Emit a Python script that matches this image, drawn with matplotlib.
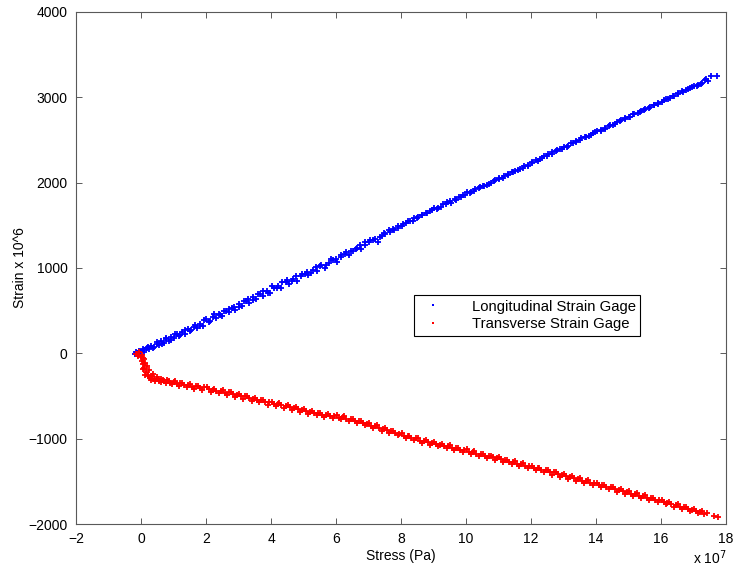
import matplotlib
matplotlib.use("Agg")
import matplotlib.pyplot as plt

plt.rcParams['font.family'] = ['Liberation Sans', 'DejaVu Sans']

# ----- Data (stress in units of 1e7 Pa, strain in microstrain) -----
long_stress_a = [
    -0.20, -0.15, -0.10, -0.05, 0.00, 0.05, 0.10, 0.18, 0.25, 0.32, 0.40, 0.48,
    0.55, 0.63, 0.70, 0.78, 0.85, 0.93, 1.00, 1.10, 1.18, 1.27, 1.35, 1.45,
    1.55, 1.63, 1.72, 1.82, 1.90, 2.00, 2.10, 2.20, 2.30, 2.40, 2.50, 2.60,
    2.70, 2.80, 2.90, 3.00, 3.10, 3.22, 3.33, 3.45, 3.55, 3.65, 3.75, 3.87,
    3.98, 4.10, 4.20, 4.32, 4.45, 4.55, 4.68, 4.80, 4.92, 5.05, 5.15, 5.28,
    5.40, 5.52, 5.65, 5.77, 5.90, 6.02, 6.15, 6.28, 6.40, 6.52, 6.65, 6.77,
    6.90, 7.02, 7.15, 7.28, 7.40, 7.52, 7.65, 7.78, 7.90, 8.02, 8.15, 8.28,
    8.40, 8.52, 8.65, 8.78, 8.90, 9.02, 9.15, 9.28, 9.40, 9.52, 9.65, 9.78,
    9.90, 10.02, 10.15, 10.28, 10.40, 10.52, 10.65, 10.78, 10.90, 11.02, 11.15, 11.28,
    11.40, 11.52, 11.65, 11.78, 11.90, 12.02, 12.15, 12.28, 12.40, 12.52, 12.65, 12.78,
    12.90, 13.02, 13.15, 13.28, 13.40, 13.52, 13.65, 13.78, 13.90, 14.02, 14.15, 14.28,
    14.40, 14.52, 14.65, 14.78, 14.90, 15.02, 15.15, 15.28, 15.40, 15.52, 15.65, 15.78,
    15.90, 16.02, 16.15, 16.28, 16.40, 16.52, 16.65, 16.78, 16.90, 17.02, 17.15, 17.25,
    17.35, 17.45, 17.55, 17.72,
]
long_strain_a = [
    -10, 15, 5, 30, 20, 45, 35, 60, 50, 85, 70, 110,
    95, 140, 120, 165, 150, 190, 175, 230, 205, 250, 225, 290,
    270, 310, 300, 345, 320, 400, 370, 430, 415, 465, 440, 500,
    485, 530, 510, 575, 555, 610, 590, 660, 640, 690, 670, 735,
    710, 765, 790, 770, 830, 815, 870, 850, 905, 935, 915, 975,
    960, 1020, 1000, 1060, 1090, 1075, 1130, 1160, 1150, 1195, 1240, 1225,
    1275, 1300, 1330, 1310, 1370, 1395, 1420, 1445, 1470, 1490, 1530, 1545,
    1580, 1600, 1625, 1650, 1665, 1700, 1705, 1745, 1770, 1785, 1810, 1830,
    1860, 1885, 1890, 1920, 1935, 1960, 1975, 2000, 2030, 2050, 2060, 2095,
    2120, 2140, 2160, 2195, 2210, 2230, 2260, 2275, 2310, 2330, 2355, 2370,
    2400, 2420, 2430, 2470, 2490, 2505, 2535, 2550, 2580, 2600, 2620, 2645,
    2665, 2680, 2710, 2730, 2760, 2775, 2800, 2820, 2845, 2865, 2890, 2905,
    2935, 2950, 2980, 2995, 3020, 3040, 3070, 3085, 3105, 3130, 3150, 3170,
    3200, 3190, 3250, 3255,
]
long_stress_b = [
    0.08, 0.22, 0.36, 0.50, 0.64, 0.78, 0.92, 1.05, 1.20, 1.35, 1.50, 1.66,
    1.80, 1.95, 2.12, 2.26, 2.42, 2.56, 2.72, 2.86, 3.02, 3.16, 3.30, 3.44,
    3.60, 3.74, 3.90, 4.04, 4.18, 4.34, 4.50, 4.64, 4.78, 4.94, 5.10, 5.24,
    5.38, 5.54, 5.70, 5.84, 6.00, 6.14, 6.30, 6.46, 6.60, 6.74, 6.88, 7.04,
    7.20, 7.34, 7.48, 7.62, 7.76, 7.92, 8.06, 8.22, 8.36, 8.50, 8.64, 8.80,
    8.94, 9.10, 9.24, 9.38, 9.54, 9.68, 9.84, 9.98, 10.12, 10.26, 10.42, 10.56,
    10.72, 10.86, 11.00, 11.16, 11.30, 11.46, 11.60, 11.74, 11.90, 12.04, 12.20, 12.34,
    12.50, 12.64, 12.80, 12.94, 13.10, 13.24, 13.38, 13.54, 13.68, 13.84, 13.98, 14.14,
    14.28, 14.44, 14.58, 14.74, 14.88, 15.04, 15.18, 15.34, 15.48, 15.64, 15.78, 15.92,
    16.08, 16.22, 16.38, 16.52, 16.68, 16.82, 16.96, 17.10, 17.22, 17.40,
]
long_strain_b = [
    10, 75, 60, 130, 105, 180, 160, 230, 215, 275, 260, 335,
    315, 390, 380, 460, 445, 495, 520, 545, 540, 615, 640, 620,
    700, 725, 705, 790, 760, 830, 855, 845, 905, 925, 950, 945,
    1010, 1040, 1030, 1100, 1110, 1150, 1190, 1200, 1220, 1265, 1300, 1330,
    1340, 1365, 1405, 1445, 1455, 1490, 1520, 1545, 1555, 1590, 1620, 1640,
    1685, 1690, 1720, 1750, 1765, 1800, 1835, 1855, 1875, 1905, 1950, 1965,
    1985, 2015, 2045, 2075, 2100, 2125, 2150, 2175, 2195, 2245, 2255, 2290,
    2315, 2335, 2380, 2395, 2420, 2460, 2475, 2520, 2530, 2560, 2595, 2610,
    2630, 2675, 2690, 2725, 2750, 2765, 2810, 2830, 2850, 2880, 2915, 2925,
    2970, 2985, 3010, 3050, 3060, 3095, 3125, 3130, 3160, 3215,
]

# transverse gage
trans_stress_a = [
    -0.15, -0.10, -0.05, 0.00, 0.02, 0.05, 0.07, 0.10, 0.12, 0.15, 0.20, 0.25,
    0.28, 0.33, 0.40, 0.48, 0.55, 0.62, 0.70, 0.80, 0.90, 1.00, 1.10, 1.20,
    1.32, 1.45, 1.58, 1.70, 1.82, 1.95, 2.08, 2.20, 2.32, 2.45, 2.58, 2.70,
    2.82, 2.95, 3.08, 3.20, 3.32, 3.45, 3.58, 3.70, 3.82, 3.95, 4.08, 4.20,
    4.32, 4.45, 4.58, 4.70, 4.82, 4.95, 5.08, 5.20, 5.32, 5.45, 5.58, 5.70,
    5.82, 5.95, 6.08, 6.20, 6.32, 6.45, 6.58, 6.70, 6.82, 6.95, 7.08, 7.20,
    7.32, 7.45, 7.58, 7.70, 7.82, 7.95, 8.08, 8.20, 8.32, 8.45, 8.58, 8.70,
    8.82, 8.95, 9.08, 9.20, 9.32, 9.45, 9.58, 9.70, 9.82, 9.95, 10.08, 10.20,
    10.32, 10.45, 10.58, 10.70, 10.82, 10.95, 11.08, 11.20, 11.32, 11.45, 11.58, 11.70,
    11.82, 11.95, 12.08, 12.20, 12.32, 12.45, 12.58, 12.70, 12.82, 12.95, 13.08, 13.20,
    13.32, 13.45, 13.58, 13.70, 13.82, 13.95, 14.08, 14.20, 14.32, 14.45, 14.58, 14.70,
    14.82, 14.95, 15.08, 15.20, 15.32, 15.45, 15.58, 15.70, 15.82, 15.95, 16.08, 16.20,
    16.32, 16.45, 16.58, 16.70, 16.82, 16.95, 17.08, 17.20, 17.32, 17.42, 17.62, 17.75,
]
trans_strain_a = [
    -5, -20, 10, -40, -90, -60, -130, -170, -110, -220, -250, -200,
    -290, -260, -300, -280, -320, -300, -330, -310, -345, -335, -360, -350,
    -375, -368, -392, -383, -408, -398, -422, -425, -442, -440, -467, -458,
    -482, -488, -503, -500, -527, -530, -548, -552, -568, -572, -588, -598,
    -608, -617, -633, -637, -653, -662, -678, -686, -703, -700, -722, -720,
    -738, -736, -752, -750, -768, -772, -793, -797, -818, -826, -848, -856,
    -878, -886, -903, -911, -933, -941, -963, -970, -993, -996, -1023, -1026,
    -1043, -1050, -1063, -1071, -1088, -1086, -1108, -1111, -1128, -1136, -1153, -1156,
    -1178, -1176, -1198, -1201, -1218, -1226, -1243, -1246, -1268, -1271, -1293, -1296,
    -1318, -1321, -1338, -1346, -1363, -1371, -1388, -1396, -1413, -1421, -1438, -1446,
    -1463, -1471, -1493, -1496, -1518, -1521, -1543, -1546, -1563, -1571, -1593, -1596,
    -1618, -1621, -1643, -1646, -1668, -1671, -1693, -1696, -1718, -1721, -1743, -1751,
    -1768, -1776, -1798, -1801, -1823, -1831, -1848, -1856, -1878, -1876, -1910, -1915,
]
trans_stress_b = [
    -0.08, 0.03, 0.06, 0.09, 0.13, 0.18, 0.22, 0.30, 0.36, 0.44, 0.52, 0.60,
    0.68, 0.76, 0.86, 0.96, 1.06, 1.16, 1.27, 1.40, 1.52, 1.64, 1.76, 1.88,
    2.02, 2.14, 2.26, 2.40, 2.52, 2.64, 2.76, 2.90, 3.02, 3.14, 3.26, 3.40,
    3.52, 3.64, 3.76, 3.90, 4.02, 4.14, 4.26, 4.40, 4.52, 4.64, 4.76, 4.90,
    5.02, 5.14, 5.26, 5.40, 5.52, 5.64, 5.76, 5.90, 6.02, 6.14, 6.26, 6.40,
    6.52, 6.64, 6.76, 6.90, 7.02, 7.14, 7.26, 7.40, 7.52, 7.64, 7.76, 7.90,
    8.02, 8.14, 8.26, 8.40, 8.52, 8.64, 8.76, 8.90, 9.02, 9.14, 9.26, 9.40,
    9.52, 9.64, 9.76, 9.90, 10.02, 10.14, 10.26, 10.40, 10.52, 10.64, 10.76, 10.90,
    11.02, 11.14, 11.26, 11.40, 11.52, 11.64, 11.76, 11.90, 12.02, 12.14, 12.26, 12.40,
    12.52, 12.64, 12.76, 12.90, 13.02, 13.14, 13.26, 13.40, 13.52, 13.64, 13.76, 13.90,
    14.02, 14.14, 14.26, 14.40, 14.52, 14.64, 14.76, 14.90, 15.02, 15.14, 15.26, 15.40,
    15.52, 15.64, 15.76, 15.90, 16.02, 16.14, 16.26, 16.40, 16.52, 16.64, 16.76, 16.90,
    17.02, 17.14, 17.26,
]
trans_strain_b = [
    -35, -20, -180, -70, -250, -150, -270, -310, -240, -320, -295, -335,
    -315, -350, -325, -360, -330, -385, -350, -400, -365, -415, -380, -430,
    -395, -450, -415, -470, -435, -490, -455, -510, -475, -530, -500, -555,
    -520, -575, -545, -600, -565, -620, -585, -640, -605, -660, -630, -685,
    -655, -710, -675, -725, -695, -745, -710, -760, -725, -775, -740, -795,
    -770, -820, -790, -845, -820, -875, -845, -905, -880, -930, -905, -960,
    -935, -990, -965, -1020, -990, -1045, -1020, -1070, -1040, -1090, -1060, -1115,
    -1080, -1135, -1105, -1160, -1125, -1180, -1150, -1205, -1175, -1225, -1200, -1250,
    -1220, -1275, -1245, -1300, -1265, -1320, -1290, -1345, -1315, -1370, -1340, -1395,
    -1365, -1420, -1390, -1445, -1415, -1470, -1440, -1495, -1465, -1520, -1490, -1545,
    -1515, -1570, -1540, -1595, -1565, -1620, -1590, -1645, -1615, -1670, -1640, -1695,
    -1665, -1720, -1690, -1745, -1720, -1770, -1745, -1795, -1770, -1825, -1795, -1850,
    -1825, -1875, -1850,
]

fig = plt.figure(figsize=(7.36, 5.73), dpi=100)
ax = fig.add_axes([0.1033, 0.0855, 0.8831, 0.8936])

ax.plot(long_stress_a + long_stress_b, long_strain_a + long_strain_b,
        linestyle='none', marker='+', ms=4, mew=1.3,
        color='#0000ff', label='Longitudinal Strain Gage')
ax.plot(trans_stress_a + trans_stress_b, trans_strain_a + trans_strain_b,
        linestyle='none', marker='+', ms=4, mew=1.3,
        color='#ff0000', label='Transverse Strain Gage')

ax.set_xlim(-2, 18)
ax.set_ylim(-2000, 4000)
ax.set_xticks(range(-2, 19, 2))
ax.set_yticks(range(-2000, 4001, 1000))
ax.tick_params(direction='in', length=4, width=0.6, top=True, right=True,
               labelsize=10, pad=6, colors='0.25', labelcolor='black')
for s in ax.spines.values():
    s.set_color('0.35')
    s.set_linewidth(0.8)

ax.set_xlabel('Stress (Pa)', fontsize=10, labelpad=2)
ax.set_ylabel('Strain x 10^6', fontsize=10, labelpad=1)
ax.text(0.949, -0.066, 'x 10$^7$', transform=ax.transAxes, fontsize=10,
        ha='left', va='center')

leg = ax.legend(loc='upper left', bbox_to_anchor=(0.52, 0.447), fontsize=10.7,
                markerscale=0.5, handletextpad=1.6, borderpad=0.3,
                labelspacing=0.25, fancybox=False, framealpha=1,
                edgecolor='black', borderaxespad=0)
leg.get_frame().set_linewidth(0.8)

fig.savefig('out.png', dpi=100)
